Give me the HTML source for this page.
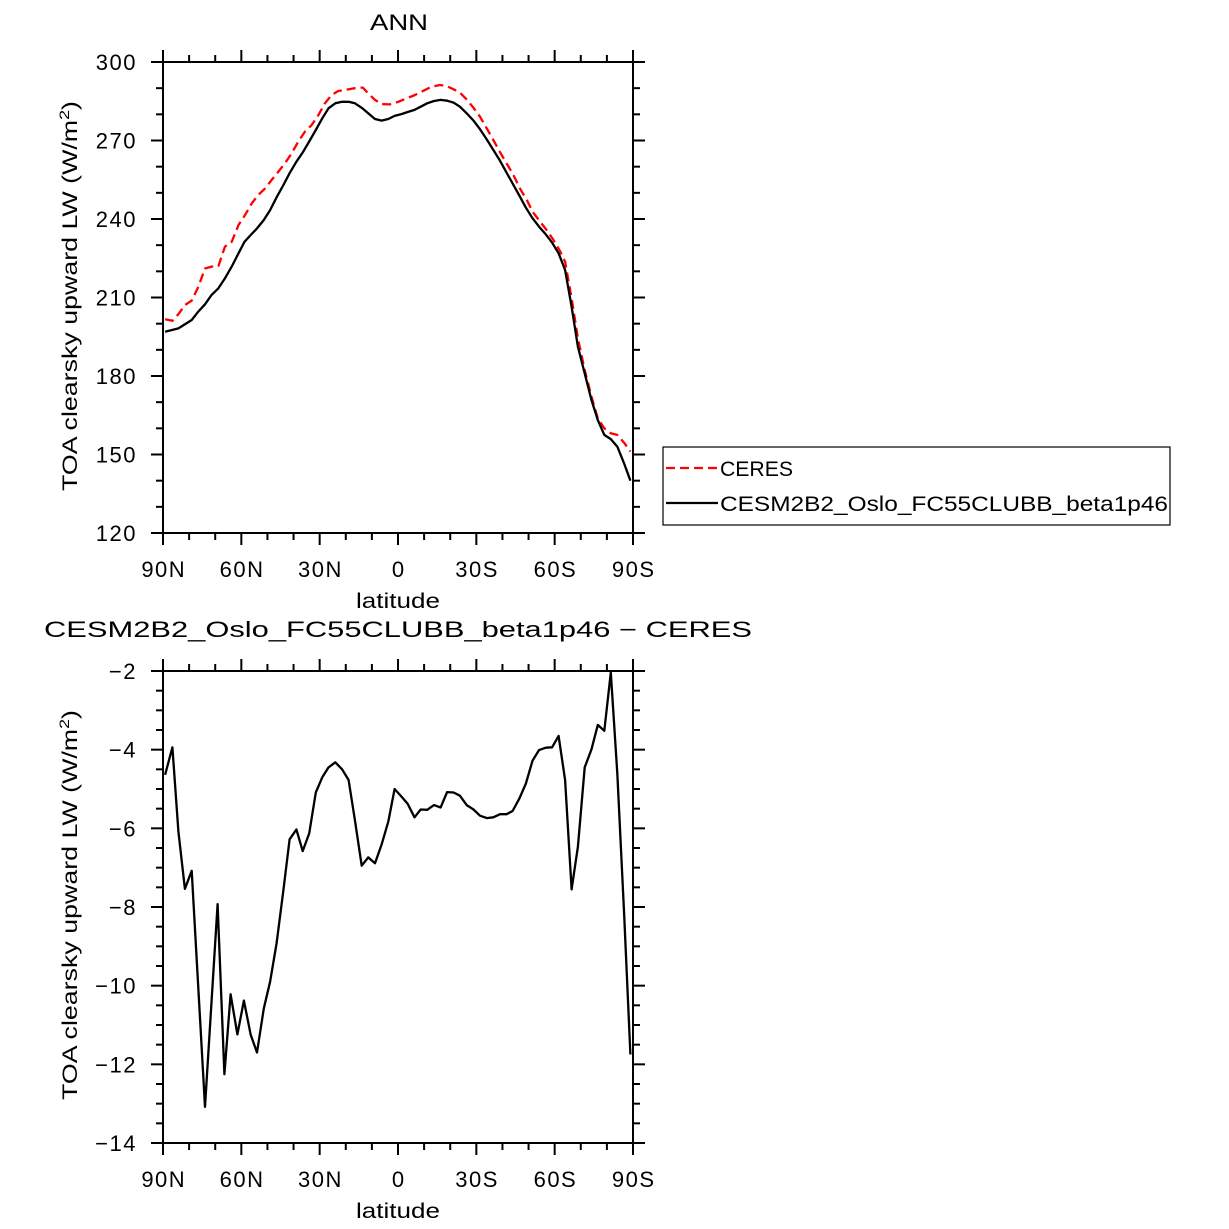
<!DOCTYPE html>
<html><head><meta charset="utf-8"><style>
body{margin:0;background:#fff}
svg{display:block}
text{font-family:"Liberation Sans",sans-serif;fill:#000}
.tk{letter-spacing:1.5px}
</style></head><body>
<svg id="chart" width="1229" height="1229" viewBox="0 0 1229 1229" xmlns="http://www.w3.org/2000/svg">
<text x="370" y="30" font-size="22" textLength="58" lengthAdjust="spacingAndGlyphs">ANN</text>
<text x="44" y="637" font-size="22" textLength="708" lengthAdjust="spacingAndGlyphs">CESM2B2_Oslo_FC55CLUBB_beta1p46 − CERES</text>
<g id="legend">
<rect x="663" y="447" width="507" height="78" fill="#fff" stroke="#000" stroke-width="1.2"/>
<line x1="666" y1="468" x2="718" y2="468" stroke="#f00" stroke-width="2.2" stroke-dasharray="9,5"/>
<text x="720" y="476" font-size="21" textLength="73" lengthAdjust="spacingAndGlyphs">CERES</text>
<line x1="666" y1="503" x2="718" y2="503" stroke="#000" stroke-width="2.2"/>
<text x="720" y="511" font-size="21" textLength="448" lengthAdjust="spacingAndGlyphs">CESM2B2_Oslo_FC55CLUBB_beta1p46</text>
</g>
</svg>
<script>
const latModel=[89.2,84.1,79.0,76.5,73.9,71.4,68.8,66.3,63.7,61.1,58.8,56.4,54.0,51.4,49.0,46.5,43.9,41.5,38.9,36.5,34.0,31.5,29.0,26.6,24.0,21.4,18.9,16.5,13.9,11.4,8.8,6.3,3.7,1.3,-1.3,-3.7,-6.3,-8.7,-11.2,-13.8,-16.3,-18.8,-21.3,-23.7,-26.3,-28.9,-31.4,-34.0,-36.5,-39.1,-41.6,-43.9,-46.5,-49.0,-51.5,-54.0,-56.6,-59.0,-61.5,-64.0,-66.5,-68.9,-71.5,-74.1,-76.5,-79.0,-81.5,-84.0,-86.6,-89.0];
const modelVals=[196.9,198.2,201.4,204.6,207.4,211.0,213.5,217.3,221.8,226.9,231.3,233.9,236.4,239.6,243.4,248.3,253.0,257.5,261.9,265.4,269.6,274.0,278.5,282.3,284.2,284.8,284.8,284.2,282.5,280.4,278.2,277.6,278.2,279.4,280.1,280.9,281.7,282.9,284.2,285.1,285.5,285.2,284.5,282.9,280.4,277.6,274.3,270.4,266.4,262.2,257.7,253.6,248.9,244.3,240.3,237.1,234.1,231.0,226.9,220.5,206.5,191.2,181.0,170.8,163.2,157.5,155.9,153.0,146.6,140.0];
const latCeres=[89.2,86.4,84.1,81.6,79.0,76.5,73.9,71.4,68.8,66.3,63.7,61.1,58.6,56.0,53.5,50.9,48.4,45.8,43.3,40.7,38.2,35.6,33.1,30.5,28.0,25.4,22.9,20.3,17.7,15.2,13.5,11.4,8.8,6.3,3.1,-0.1,-3.3,-6.5,-9.7,-12.9,-16.1,-18.6,-21.2,-23.7,-26.3,-28.9,-31.4,-34.0,-36.5,-39.1,-41.6,-44.2,-46.7,-49.3,-51.8,-54.4,-56.9,-59.5,-62.0,-64.0,-66.5,-68.9,-71.5,-74.1,-76.5,-79.0,-81.5,-84.0,-86.6,-89.0];
const ceresVals=[201.7,201.1,203.6,207.1,208.8,214.1,221.1,221.8,222.0,229.4,231.3,237.7,241.5,246.0,249.2,251.7,254.9,258.1,261.3,265.1,269.6,273.4,275.9,279.7,284.2,287.4,288.9,289.3,289.8,290.2,290.2,288.0,285.5,283.9,283.8,284.8,286.1,287.4,289.0,290.6,291.2,290.8,289.6,288.3,285.7,282.5,279.1,274.6,270.2,265.5,261.3,256.8,251.7,247.3,242.4,239.0,235.8,232.0,227.8,223.7,209.7,194.4,182.3,172.1,163.8,160.0,158.1,157.5,154.5,151.1];
const latDiff=[89.2,86.4,84.1,81.6,79.0,73.9,69.1,66.5,64.1,61.5,59.0,56.4,54.0,51.4,49.0,46.5,43.9,41.5,38.9,36.5,34.0,31.5,29.0,26.6,24.0,21.4,18.9,16.5,13.9,11.4,8.8,6.3,3.7,1.3,-1.3,-3.7,-6.3,-8.7,-11.2,-13.8,-16.3,-18.8,-21.3,-23.7,-26.3,-28.9,-31.4,-34.0,-36.5,-39.1,-41.6,-43.9,-46.5,-49.0,-51.5,-54.0,-56.6,-59.0,-61.5,-64.0,-66.5,-68.9,-71.5,-74.1,-76.5,-79.0,-81.5,-84.0,-86.6,-89.0];
const diffVals=[-4.64,-3.94,-6.08,-7.54,-7.08,-13.08,-7.93,-12.25,-10.22,-11.24,-10.38,-11.25,-11.70,-10.58,-9.90,-8.92,-7.57,-6.28,-6.03,-6.58,-6.13,-5.09,-4.70,-4.45,-4.32,-4.50,-4.77,-5.79,-6.95,-6.74,-6.89,-6.41,-5.83,-5.00,-5.19,-5.38,-5.72,-5.52,-5.53,-5.41,-5.47,-5.08,-5.09,-5.17,-5.41,-5.52,-5.68,-5.74,-5.72,-5.64,-5.64,-5.56,-5.24,-4.86,-4.28,-4.01,-3.95,-3.94,-3.65,-4.77,-7.55,-6.47,-4.45,-3.99,-3.37,-3.52,-2.04,-4.60,-8.16,-11.75];
const xTickVals=[90,60,30,0,-30,-60,-90];
const xTickLabels=["90N","60N","30N","0","30S","60S","90S"];
const topYTicks=[300,270,240,210,180,150,120];
const botYTicks=[-2,-4,-6,-8,-10,-12,-14];

const NS="http://www.w3.org/2000/svg";
const svg=document.getElementById('chart');
function mk(tag,attrs,parent){const e=document.createElementNS(NS,tag);for(const k in attrs)e.setAttribute(k,attrs[k]);(parent||svg).appendChild(e);return e;}

function panel(name,top,bottom,ymin,ymax,yTicks,minorStep,yTitleY,latY){
  const L=163,R=633;
  const g=mk('g',{});
  
  
  const sx=v=>L+(90-v)/180*(R-L);
  const sy=v=>bottom-(v-ymin)/(ymax-ymin)*(bottom-top);
  for(let v=90;v>=-90;v-=10){
    const major=(v%30===0);const len=major?12:7;const x=sx(v);
    const t1=mk('line',{x1:x,y1:bottom,x2:x,y2:bottom+len,stroke:'#000','stroke-width':2},g);
    
    
    const t2=mk('line',{x1:x,y1:top,x2:x,y2:top-len,stroke:'#000','stroke-width':2},g);
    
    
  }
  xTickVals.forEach((v,i)=>{
    const t=mk('text',{x:sx(v)+0.75,y:bottom+44,'font-size':22,'text-anchor':'middle','class':'tk'},g);
    t.textContent=xTickLabels[i];
    
    
  });
  const nMinor=Math.round((ymax-ymin)/minorStep);
  for(let i=0;i<=nMinor;i++){
    const v=ymin+i*minorStep;const y=sy(v);
    const major=yTicks.some(t=>Math.abs(t-v)<1e-6);const len=major?12:7;
    const a=mk('line',{x1:L,y1:y,x2:L-len,y2:y,stroke:'#000','stroke-width':2},g);
    
    
    const b=mk('line',{x1:R,y1:y,x2:R+len,y2:y,stroke:'#000','stroke-width':2},g);
    
    
  }
  yTicks.forEach(v=>{
    const t=mk('text',{x:137,y:sy(v)+8,'font-size':22,'text-anchor':'end','class':'tk'},g);
    t.textContent=(v<0?'−'+(-v):String(v));
    
    
  });
  const lt=mk('text',{x:356,y:latY,'font-size':21,textLength:84,lengthAdjust:'spacingAndGlyphs'},g);
  lt.textContent='latitude';
  
  
  const yt=mk('text',{x:0,y:0,'font-size':21,textLength:390,lengthAdjust:'spacingAndGlyphs',transform:`translate(77,${yTitleY+195}) rotate(-90)`},g);
  yt.innerHTML='TOA clearsky upward LW  (W/m<tspan font-size="14" dy="-8">2</tspan><tspan dy="8">)</tspan>';
  
  
  return {g,sx,sy,L,R};
}
function frame(p,top,bottom){
  const f=mk('rect',{x:p.L,y:top,width:p.R-p.L,height:bottom-top,fill:'none',stroke:'#000','stroke-width':2},p.g);
  
  
}
function line(p,lats,vals,color,dash,name){
  const d=lats.map((la,i)=>(i?'L':'M')+p.sx(la).toFixed(1)+','+p.sy(vals[i]).toFixed(1)).join('');
  const a={d:d,fill:'none',stroke:color,'stroke-width':2.3,'stroke-linejoin':'round'};
  if(dash)a['stroke-dasharray']=dash;
  const e=mk('path',a,p.g);
  
  
}
const p1=panel('top-panel',62,533,120,300,topYTicks,10,296,608);
line(p1,latCeres,ceresVals,'#f00','9,5','ceres-line');
line(p1,latModel,modelVals,'#000',null,'model-line');
frame(p1,62,533);
const p2=panel('bottom-panel',671,1143,-14,-2,botYTicks,0.5,905,1218);
line(p2,latDiff,diffVals,'#000',null,'difference-line');
frame(p2,671,1143);
</script>
</body></html>
